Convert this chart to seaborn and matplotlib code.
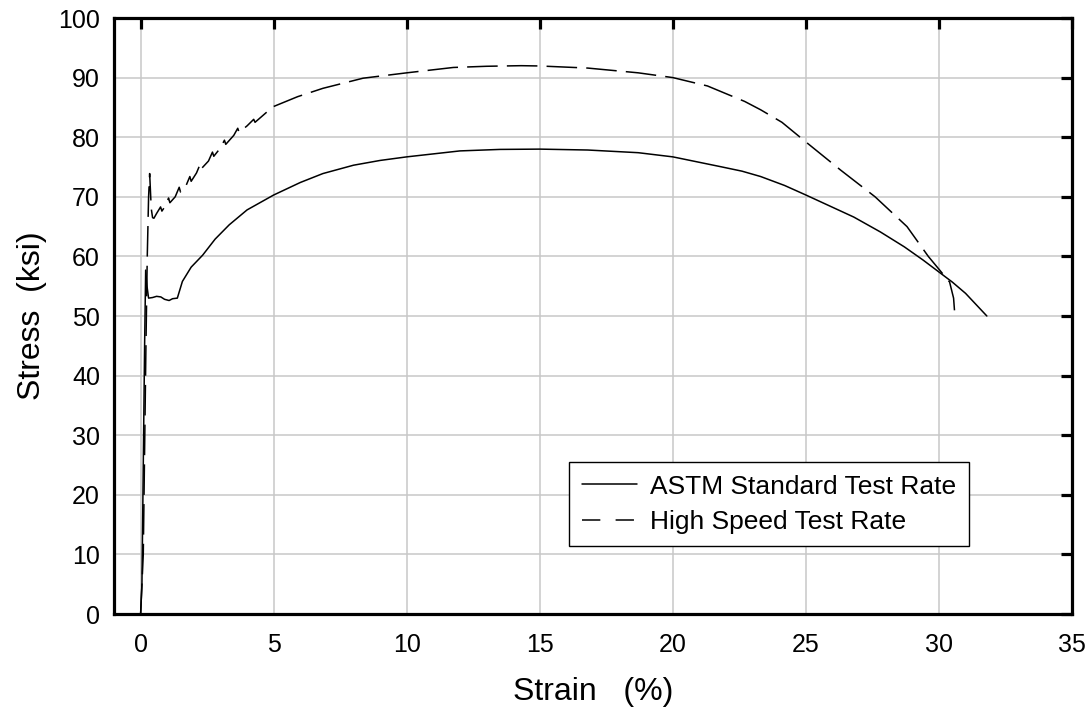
import matplotlib
matplotlib.use("Agg")
import matplotlib.pyplot as plt
import seaborn as sns
import pandas as pd

# ---- data ----
astm_strain = [0.0, 0.05, 0.10, 0.15, 0.19, 0.24, 0.30, 0.45, 0.60, 0.76, 0.90, 1.07, 1.20,
               1.38, 1.57, 1.90, 2.33, 2.80, 3.33, 4.00, 5.00, 6.00, 6.85, 8.00, 9.00, 10.0,
               11.0, 12.0, 13.5, 15.0, 16.8, 18.7, 20.0, 21.8, 22.6, 23.3, 24.2, 25.0, 26.8,
               27.8, 28.7, 29.4, 30.5, 31.0, 31.8]
astm_stress = [0.0, 5.0, 25.0, 45.0, 57.7, 55.0, 53.0, 53.1, 53.3, 53.2, 52.8, 52.6, 52.9,
               53.0, 55.8, 58.2, 60.2, 62.9, 65.3, 67.8, 70.3, 72.4, 73.9, 75.3, 76.1, 76.7,
               77.2, 77.7, 77.95, 78.0, 77.85, 77.4, 76.7, 75.05, 74.3, 73.4, 71.9, 70.3, 66.6,
               64.1, 61.6, 59.4, 55.7, 53.8, 50.0]

hs_strain = [0.0, 0.10, 0.20, 0.25, 0.30, 0.34, 0.40, 0.45, 0.50, 0.60, 0.75, 0.80, 0.95,
             1.05, 1.10, 1.30, 1.45, 1.50, 1.70, 1.85, 1.90, 2.10, 2.25, 2.30, 2.55, 2.70,
             2.75, 3.00, 3.15, 3.20, 3.50, 3.65, 3.70, 4.00, 4.25, 4.30, 4.97, 5.90, 6.85,
             8.36, 10.0, 11.75, 13.0, 14.3, 15.0, 16.8, 18.7, 20.0, 21.3, 22.7, 23.3, 24.1,
             25.0, 26.3, 27.6, 28.8, 29.6, 30.4, 30.55, 30.6]
hs_stress = [0.0, 10.0, 45.0, 60.0, 70.0, 73.9, 68.0, 66.5, 66.4, 67.2, 68.3, 67.6, 68.6,
             69.8, 69.0, 70.0, 71.6, 70.8, 71.8, 73.4, 72.6, 74.0, 75.6, 74.8, 76.0, 77.5,
             76.8, 78.2, 79.5, 78.8, 80.3, 81.5, 80.8, 81.9, 83.0, 82.5, 85.1, 86.8, 88.2,
             89.9, 90.8, 91.7, 91.9, 92.0, 91.95, 91.6, 90.8, 90.0, 88.6, 86.0, 84.6, 82.5,
             79.2, 74.5, 70.0, 65.0, 60.0, 55.7, 53.0, 50.0]

series_names = ["ASTM Standard Test Rate", "High Speed Test Rate"]
x_ticks = [0, 5, 10, 15, 20, 25, 30, 35]
y_ticks = [0, 10, 20, 30, 40, 50, 60, 70, 80, 90, 100]

df_astm = pd.DataFrame({"strain": astm_strain, "stress": astm_stress})
df_hs = pd.DataFrame({"strain": hs_strain, "stress": hs_stress})

sns.set_style("white")
plt.rcParams["font.family"] = ["Liberation Sans", "DejaVu Sans"]
plt.rcParams["text.color"] = "black"
plt.rcParams["axes.labelcolor"] = "black"
plt.rcParams["xtick.color"] = "black"
plt.rcParams["ytick.color"] = "black"

fig = plt.figure(figsize=(10.89, 7.09), dpi=100)
ax = fig.add_axes([114 / 1089, 1 - 614 / 709, (1072 - 114) / 1089, (614 - 18) / 709])

sns.lineplot(data=df_astm, x="strain", y="stress", ax=ax, sort=False, estimator=None,
             color="black", linewidth=1.1, label=series_names[0])
sns.lineplot(data=df_hs, x="strain", y="stress", ax=ax, sort=False, estimator=None,
             color="black", linewidth=1.1, linestyle=(0, (20, 6)), label=series_names[1])

ax.set_xlim(-1, 35)
ax.set_ylim(0, 100)
ax.set_xticks(x_ticks)
ax.set_yticks(y_ticks)
ax.grid(True, color="#c8c8c8", linewidth=1.1)
ax.set_axisbelow(True)

for s in ax.spines.values():
    s.set_visible(True)
    s.set_linewidth(2.3)
    s.set_color("black")

ax.tick_params(axis="both", which="major", direction="in", length=8, width=2.3,
               top=True, right=True, labelsize=18, color="black", labelcolor="black")
ax.tick_params(axis="x", pad=14)
ax.tick_params(axis="y", pad=10)

ax.set_xlabel("Strain   (%)", fontsize=23, labelpad=14, color="black")
ax.set_ylabel("Stress  (ksi)", fontsize=23, labelpad=8, color="black")

leg = ax.legend(loc="upper right", bbox_to_anchor=((969 - 114) / 958, (614 - 462) / 596),
                fontsize=19, frameon=True, fancybox=False, framealpha=1, edgecolor="black",
                handlelength=2.1, handletextpad=0.5, borderpad=0.48, labelspacing=0.42,
                borderaxespad=0)
leg.get_frame().set_linewidth(1.0)
for t in leg.get_texts():
    t.set_color("black")
leg.get_lines()[1].set_linestyle((0, (12, 10)))

fig.savefig("out.png", dpi=100)
